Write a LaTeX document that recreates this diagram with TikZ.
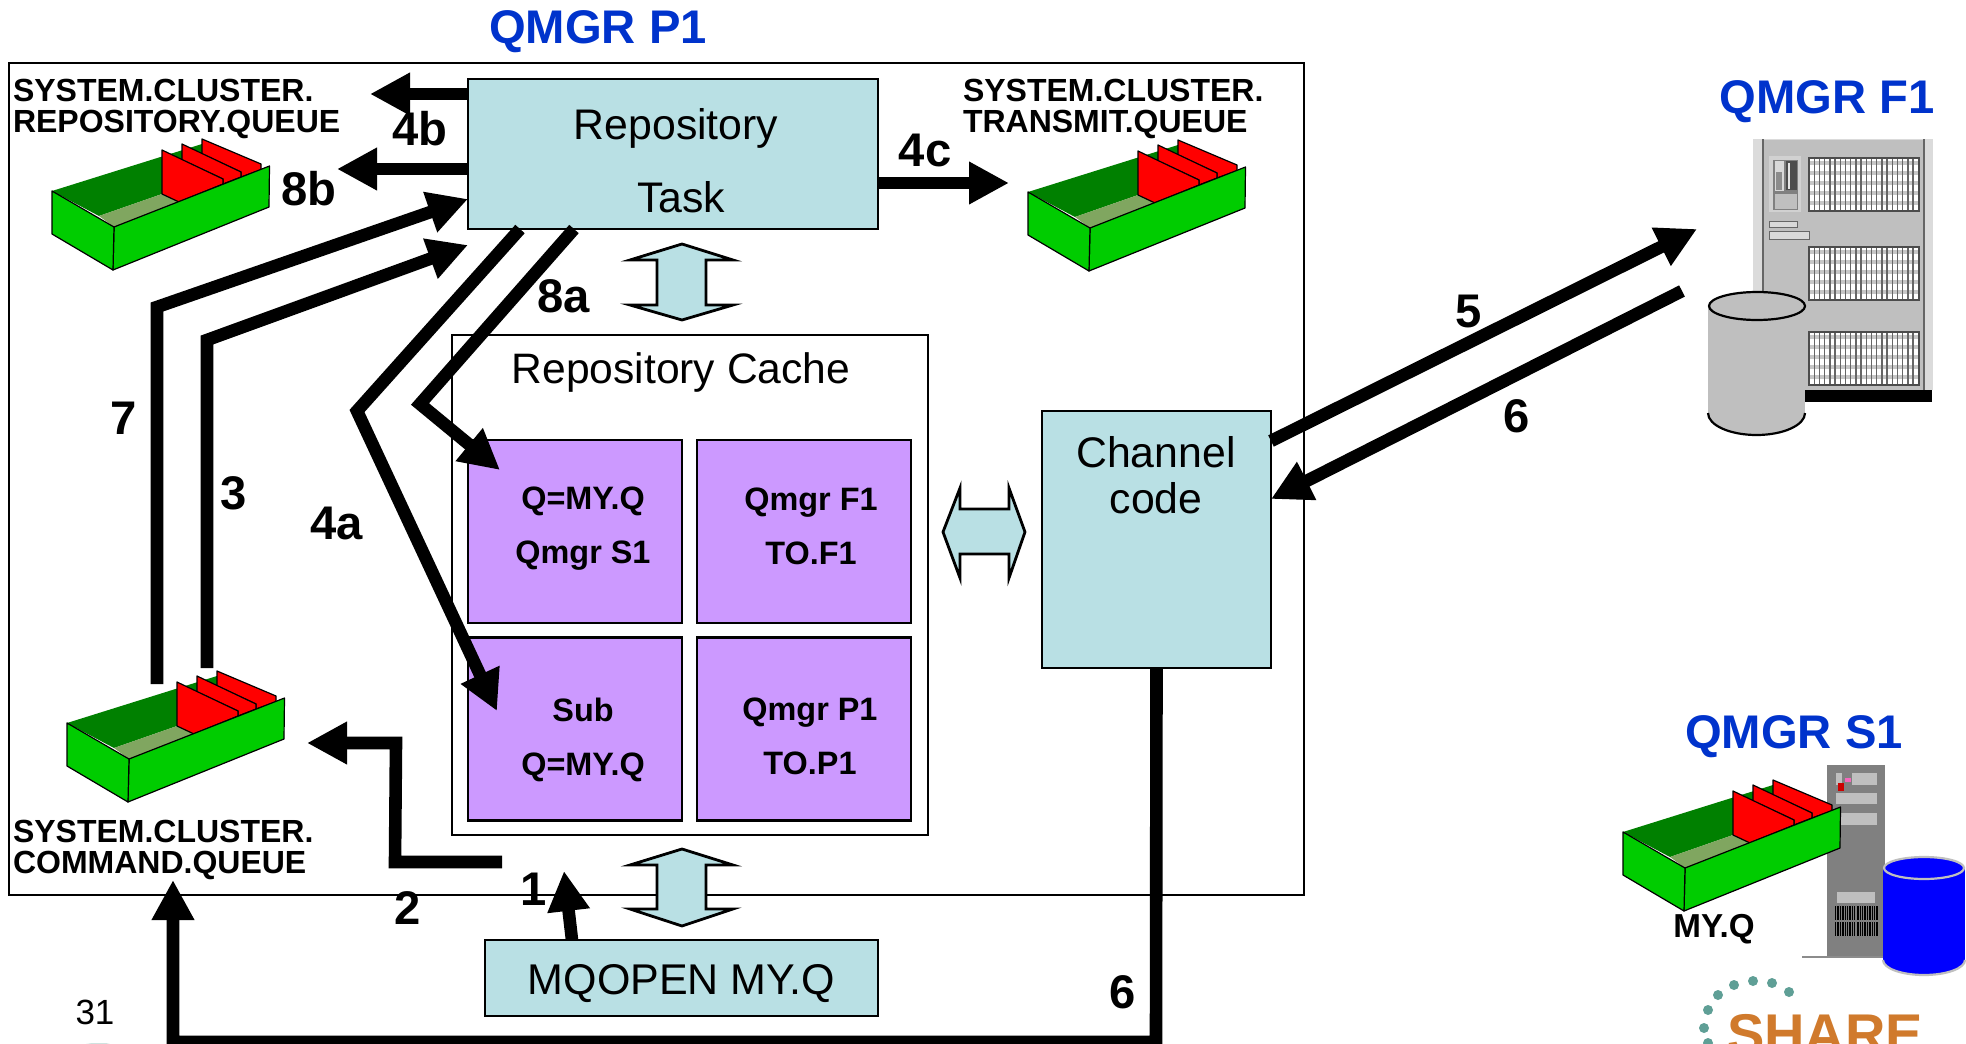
\documentclass[tikz,border=0pt]{standalone}
\usepackage{fontspec}
\setmainfont{Liberation Sans}
\usetikzlibrary{arrows.meta}
\definecolor{boxblue}{HTML}{B9E0E4}
\definecolor{boxpurple}{HTML}{CC99FF}
\definecolor{qgreen}{HTML}{00CC00}
\definecolor{qdark}{HTML}{008000}
\definecolor{qfloor}{HTML}{80A660}
\definecolor{titleblue}{HTML}{0033CC}
\definecolor{teal1}{HTML}{5F9F96}
\definecolor{share}{HTML}{D07A2C}
\tikzset{
  every node/.style={inner sep=0pt,outer sep=0pt},
  bluebox/.style={draw=black,line width=1.4pt,fill=boxblue},
  purplebox/.style={draw=black,line width=1.4pt,fill=boxpurple,minimum width=107pt,minimum height=91.5pt},
  plainbox/.style={draw=black,line width=1.2pt},
  arr/.style={line width=6.3pt,miter limit=10,-{Triangle[length=20pt,width=20pt]}},
  num/.style={font=\fontsize{23.6}{24}\selectfont\bfseries},
  title/.style={font=\fontsize{23.6}{24}\selectfont\bfseries,text=titleblue},
  qlabel/.style={font=\fontsize{16}{15.2}\selectfont\bfseries,align=left,anchor=west},
  bigtxt/.style={font=\fontsize{21.4}{23}\selectfont,align=center},
  celltxt/.style={font=\fontsize{16.2}{27}\selectfont\bfseries,align=center},
  dbl/.style={draw=black,line width=1.4pt,fill=boxblue,miter limit=10},
  qedge/.style={draw=black,line width=.6pt,line join=round},
}
\newcommand{\queuebox}[2]{%
  \begin{scope}[shift={(#1,#2)}]
    \fill[qdark] (0,0) -- (150,-47) -- (150,0) -- (110,3) -- (47,25) -- cycle;
    \fill[qfloor] (47,25) -- (110,3) -- (127,11) -- (62,36) -- cycle;
    \path[qedge,fill=red] (150,-52) -- (209,-27) -- (209,-21) -- (189,-14) -- (189,-19) -- (150,-37) -- cycle;
    \path[qedge,fill=red] (130,-47) -- (189,-19) -- (189,-14) -- (171,-7) -- (171,-12) -- (130,-31) -- cycle;
    \path[qedge,fill=red] (110,-41) -- (171,-12) -- (171,-7) -- (127,11) -- (110,3) -- cycle;
    \path[qedge,fill=qgreen] (62,36) -- (217.5,-25) -- (217,16) -- (61,79) -- cycle;
    \path[qedge,fill=qgreen] (0,0) -- (62,36) -- (61,79) -- (0,43) -- cycle;
  \end{scope}}
\newcommand{\grille}[1]{%
  \begin{scope}[shift={(1809,#1)}]
    \fill[white] (0,0) rectangle (110,53);
    \foreach \yy in {3,13,23,33,43} \fill[black!22] (0,\yy) rectangle (110,\yy+4);
    \foreach \xx in {0,5.2,...,110.1} \draw[black!60,line width=.7pt] (\xx,0) -- (\xx,53);
    \draw[black!70,line width=.7pt] (0,0) rectangle (110,53);
  \end{scope}}
\newcommand{\barcode}[1]{%
  \foreach \xx/\ww in {1835/1,1837/1.5,1840/.7,1842/1.6,1845/.7,1847/1,1849/1.6,1852/.7,1854/1.2,1857/1.6,1860/.7,1862/1,1864/1.6,1867/.7,1869/1.6,1872/1,1874/1.2,1876/1.6}
    \fill[black] (\xx,#1) rectangle ++(\ww,14);}
\begin{document}
\begin{tikzpicture}[x=0.5pt,y=-0.5pt]
\useasboundingbox (0,0) rectangle (1966,1044);
\fill[white] (0,0) rectangle (1966,1044);

% outer queue manager box
\node[plainbox,minimum width=647.5pt,minimum height=416pt] (outer) at (656.5,479) {};
\node[title] (qp1) at (598,32) {QMGR P1};

% repository cache
\node[plainbox,line width=1pt,minimum width=238pt,minimum height=250pt] (cache) at (690,585) {};
\node[font=\fontsize{21.3}{23}\selectfont] (cachetxt) at (681,372) {Repository Cache};
\node[purplebox] (c1) at (575,531.5) {};
\node[purplebox] (c2) at (804,531.5) {};
\node[purplebox,minimum height=91.5pt] (c3) at (575,729) {};
\node[purplebox,minimum height=91.5pt] (c4) at (804,729) {};
\node[celltxt] (c1t) at (583,528.5) {Q=MY.Q\\Qmgr S1};
\node[celltxt] (c2t) at (811,526) {Qmgr F1\\TO.F1};
\node[celltxt] (c3t) at (583,740) {Sub\\Q=MY.Q};
\node[celltxt] (c4t) at (810,736) {Qmgr P1\\TO.P1};

% blue boxes
\node[bluebox,minimum width=205pt,minimum height=75pt] (task) at (673,154) {};
\node[bigtxt] (tasktxt1) at (676,128) {Repository};
\node[bigtxt] (tasktxt2) at (681,197) {Task};
\node[bluebox,minimum width=114.5pt,minimum height=128.5pt] (chan) at (1156.5,539.5) {};
\node[bigtxt] (chantxt) at (1156,475) {Channel\\code};
\node[bluebox,minimum width=196.5pt,minimum height=38pt] (open) at (681.5,978) {};
\node[font=\fontsize{21.5}{23}\selectfont] (opentxt) at (681.5,984) {MQOPEN MY.Q};

% block double arrows
\path[dbl] (682,244) -- (733,260) -- (706,260) -- (706,305) -- (733,305) -- (682,320) -- (630,305) -- (657,305) -- (657,260) -- (630,260) -- cycle;
\path[dbl] (682,849) -- (733,865) -- (706,865) -- (706,909) -- (733,909) -- (682,926) -- (630,909) -- (657,909) -- (657,865) -- (630,865) -- cycle;
\path[dbl] (943,532) -- (960,488) -- (960,509) -- (1009,509) -- (1009,488) -- (1025,532) -- (1009,578) -- (1009,554) -- (960,554) -- (960,578) -- cycle;

% queues
\queuebox{52}{191}
\queuebox{1028}{192}
\queuebox{67}{723}
\node[qlabel] (repoq) at (13,109) {SYSTEM.CLUSTER.\\REPOSITORY.QUEUE};
\node[qlabel] (transq) at (963,109) {SYSTEM.CLUSTER.\\TRANSMIT.QUEUE};
\node[qlabel] (cmdq) at (13,850) {SYSTEM.CLUSTER.\\COMMAND.QUEUE};

% F1 server
\node[title] (qf1) at (1827,102) {QMGR F1};
\fill[black!14] (1753,139) rectangle (1933,390);
\fill[black!25] (1763,140) rectangle (1924,390);
\draw[black!60,line width=.6pt] (1763,139) -- (1763,390) (1924,139) -- (1924,390);
\fill[black] (1805,390) rectangle (1932,402);
\grille{158}
\grille{247}
\grille{332}
\fill[black!18] (1769,156) rectangle (1801,212);
\fill[black!50] (1773,160) rectangle (1798,210);
\fill[black!15] (1775,161) rectangle (1784,191);
\fill[black!45] (1776,172) rectangle (1782,190);
\fill[black!70] (1786,161) rectangle (1797,190);
\fill[black!10] (1788,163) rectangle (1790,189);
\fill[black!25] (1775,194) rectangle (1797,209);
\filldraw[fill=black!15,draw=black!60,line width=.5pt] (1769,221) rectangle (1797,227);
\filldraw[fill=black!15,draw=black!60,line width=.5pt] (1769,231) rectangle (1809,239);
% F1 disk
\fill[black!25] (1708,306) rectangle (1805,413);
\fill[black!25] (1708,413) arc[start angle=180,end angle=0,x radius=48.5,y radius=22];
\draw[black,line width=1.1pt] (1708,413) arc[start angle=180,end angle=0,x radius=48.5,y radius=22];
\draw[black,line width=1.1pt,fill=black!25] (1757,306) ellipse[x radius=48,y radius=14];

% S1 server
\node[title] (qs1) at (1794,737) {QMGR S1};
\fill[black!50] (1827,765) rectangle (1885,956);
\draw[black!45,line width=1pt] (1802,957) -- (1883,957);
\fill[black!25] (1836,773) rectangle (1877,785);
\fill[black!50] (1842,773) rectangle (1852,785);
\fill[red!80!black] (1838,783) rectangle (1844,791);
\fill[magenta!60] (1845,778) rectangle (1851,782);
\fill[black!25] (1836,793) rectangle (1877,804);
\fill[black!25] (1841,813) rectangle (1877,825);
\fill[black!25] (1837,892) rectangle (1875,903);
\barcode{906}
\barcode{922}
\queuebox{1623}{832}
\node[font=\fontsize{16.6}{18}\selectfont\bfseries] (myq) at (1714,929) {MY.Q};
% S1 disk
\fill[blue] (1883,868) rectangle (1965,960);
\fill[blue] (1883,960) arc[start angle=180,end angle=0,x radius=41,y radius=15];
\draw[black!25,line width=1.1pt] (1883,960) arc[start angle=180,end angle=0,x radius=41,y radius=15];
\draw[black!25,line width=1.1pt,fill=blue] (1924,868) ellipse[x radius=40,y radius=11];

% share logo
\foreach \xx/\yy in {1753/981,1734/985,1718/995,1708/1010,1704/1028,1708/1043,1772/983,1789/992}
  \fill[teal1] (\xx,\yy) circle[radius=5];
\node[font=\fontsize{28}{30}\selectfont\bfseries,text=share,anchor=base] (sharetxt) at (1825,1053) {SHARE};

% page number
\node[font=\fontsize{17.5}{19}\selectfont] (page) at (95,1012) {31};
\fill[teal1!30] (86,1044) -- (92,1043) -- (106,1043) -- (110,1044) -- cycle;

% connector ends
\coordinate (a4b) at (370,94);
\coordinate (a8b) at (337,169);
\coordinate (s7) at (157,684);
\coordinate (b7) at (157,307);
\coordinate (a7) at (468,199);
\coordinate (s3) at (207,668);
\coordinate (b3) at (207,340);
\coordinate (a3) at (468,245);
\coordinate (s4a) at (520,229);
\coordinate (b4a) at (357,411);
\coordinate (a4a) at (497,711);
\coordinate (s8a) at (574,229);
\coordinate (b8a) at (420,404);
\coordinate (a8a) at (500,470);
\coordinate (a4c) at (1009,183);
\coordinate (a5) at (1697,229);
\coordinate (s5) at (1271,441);
\coordinate (s6) at (1682,291);
\coordinate (a6) at (1271,499);
\coordinate (s2) at (502,862);
\coordinate (b2a) at (395,862);
\coordinate (b2b) at (396,743);
\coordinate (a2) at (307,743);
\coordinate (a1) at (564,871);
\coordinate (s1) at (572,940);
\coordinate (b6a) at (1156,1042);
\coordinate (b6b) at (173,1042);
\coordinate (a6b) at (173,880);

% connectors
\draw[arr] (task.west |- a4b) -- (a4b);
\draw[arr] (task.west |- a8b) -- (a8b);
\draw[arr] (s7) -- (b7) -- (a7);
\draw[arr] (s3) -- (b3) -- (a3);
\draw[arr] (s4a) -- (b4a) -- (a4a);
\draw[arr] (s8a) -- (b8a) -- (a8a);
\draw[arr] (task.east |- a4c) -- (a4c);
\draw[arr] (s5) -- (a5);
\draw[arr] (s6) -- (a6);
\draw[arr] (s2) -- (b2a) -- (b2b) -- (a2);
\draw[arr] (s1) -- (a1);
\draw[arr] (chan.south) -- (b6a) -- (b6b) -- (a6b);

% numbers
\node[num] (n4b) at (420,129) {4b};
\node[num] (n8b) at (309,189) {8b};
\node[num] (n4c) at (925,150) {4c};
\node[num] (n8a) at (564,296) {8a};
\node[num] (n7) at (124,418) {7};
\node[num] (n3) at (234,493) {3};
\node[num] (n4a) at (337,523) {4a};
\node[num] (n5) at (1469,311) {5};
\node[num] (n6) at (1517,416) {6};
\node[num] (n6b) at (1123,992) {6};
\node[num] (n1) at (534,889) {1};
\node[num] (n2) at (408,908) {2};
\end{tikzpicture}
\end{document}
